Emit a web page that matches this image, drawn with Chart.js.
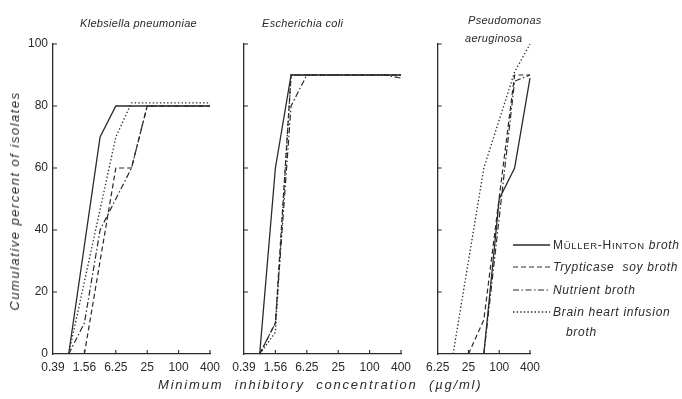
<!DOCTYPE html>
<html>
<head>
<meta charset="utf-8">
<script src="https://cdn.jsdelivr.net/npm/chart.js@4"></script>
<style>
  html, body { margin: 0; padding: 0; background: #fff; }
  body { width: 682px; height: 399px; position: relative; overflow: hidden;
         font-family: "Liberation Sans", Arial, sans-serif; color: #2a2a2a; }
  .panel { position: absolute; top: 0; height: 399px; }
  .txt { position: absolute; white-space: nowrap; font-style: italic; font-size: 12px; line-height: 14px; letter-spacing: 0.7px; }
  .title { font-size: 11px; letter-spacing: 0.3px; }
  .sc { font-style: normal; font-size: 9.5px; }
  .up { font-style: normal; }
</style>
</head>
<body>

<div class="panel" style="left:0;width:230px"><canvas id="kp"></canvas></div>
<div class="panel" style="left:220px;width:200px"><canvas id="ec"></canvas></div>
<div class="panel" style="left:420px;width:262px"><canvas id="pa"></canvas></div>

<div class="txt title" style="left:80px;top:16px">Klebsiella pneumoniae</div>
<div class="txt title" style="left:262px;top:16px">Escherichia coli</div>
<div class="txt title" style="left:468px;top:13px">Pseudomonas</div>
<div class="txt title" style="left:465px;top:31px">aeruginosa</div>

<div class="txt" style="left:15px;top:201px;font-size:13px;letter-spacing:1.5px;transform:translate(-50%,-50%) rotate(-90deg)">Cumulative percent of isolates</div>
<div class="txt" style="left:158px;top:378px;font-size:13px;letter-spacing:1.8px;word-spacing:6px">Minimum inhibitory concentration (µg/ml)</div>

<div class="txt" style="left:553px;top:238px"><span class="up">M</span><span class="sc">ÜLLER</span><span class="up">-H</span><span class="sc">INTON</span> broth</div>
<div class="txt" style="left:553px;top:260px">Trypticase&nbsp; soy broth</div>
<div class="txt" style="left:553px;top:283px">Nutrient broth</div>
<div class="txt" style="left:553px;top:305px">Brain heart infusion</div>
<div class="txt" style="left:566px;top:325px">broth</div>

<script>
// MIC dilution series (µg/ml)
const dilutionsFull = [0.39, 0.78, 1.56, 3.12, 6.25, 12.5, 25, 50, 100, 200, 400];
const dilutionsPa   = [6.25, 12.5, 25, 50, 100, 200, 400];

// Axis tick labels
const tickLabelsFull = ['0.39', '1.56', '6.25', '25', '100', '400'];
const tickLabelsPa   = ['6.25', '25', '100', '400'];
const percentTicks   = [0, 20, 40, 60, 80, 100];

// Media
const media = ['MÜLLER-HINTON broth', 'Trypticase soy broth', 'Nutrient broth', 'Brain heart infusion broth'];

// Klebsiella pneumoniae: cumulative % of isolates inhibited
const kpMuellerHinton = [null, 0, null, 70, 80, 80, 80, 80, 80, 80, 80];
const kpTrypticase    = [null, null, 0, null, 60, 60, 80, 80, 80, 80, 80];
const kpNutrient      = [null, 0, 10, 40, null, 60, 80, 80, 80, 80, 80];
const kpBrainHeart    = [null, 0, null, null, 70, 81, 81, 81, 81, 81, 81];

// Escherichia coli
const ecMuellerHinton = [null, 0, 60, 90, 90, 90, 90, 90, 90, 90, 90];
const ecTrypticase    = [null, 0, 10, 90, 90, 90, 90, 90, 90, 90, 90];
const ecNutrient      = [null, 0, 10, 80, 90, 90, 90, 90, 90, 90, 89];
const ecBrainHeart    = [null, 0, 7, 90, 90, 90, 90, 90, 90, 90, 90];

// Pseudomonas aeruginosa
const paMuellerHinton = [null, null, null, 0, 50, 60, 89];
const paTrypticase    = [null, null, 0, 11, null, 90, 90];
const paNutrient      = [null, null, null, 0, null, 88, 90];
const paBrainHeart    = [null, 0, null, 60, null, 91, 100];

const ink = '#2a2a2a';
const lineDashes = [[], [5, 3], [6, 2.5, 1.5, 2.5], [1.4, 2.2]];
const lineWidths = [1.3, 1.2, 1.2, 1.3];

function makeDatasets(seriesList) {
  return seriesList.map((values, i) => ({
    label: media[i],
    data: values,
    borderColor: ink,
    borderWidth: lineWidths[i],
    borderDash: lineDashes[i],
    pointRadius: 0,
    tension: 0,
    fill: false,
    spanGaps: true,
    clip: false
  }));
}

// Short tick marks pointing into the plot area
const innerTicks = {
  id: 'innerTicks',
  afterDraw(chart) {
    const { ctx, chartArea: a, scales: { x, y } } = chart;
    ctx.save();
    ctx.strokeStyle = ink;
    ctx.lineWidth = 1.1;
    ctx.beginPath();
    x.ticks.forEach(t => {
      const px = x.getPixelForValue(t.value);
      if (px - a.left < 2) return;
      ctx.moveTo(px, a.bottom);
      ctx.lineTo(px, a.bottom - 4);
    });
    y.ticks.forEach(t => {
      const py = y.getPixelForValue(t.value);
      if (a.bottom - py < 2) return;
      ctx.moveTo(a.left, py);
      ctx.lineTo(a.left + 4, py);
    });
    ctx.stroke();
    ctx.restore();
  }
};

// Line samples for the key, drawn from each dataset's own style
const keySamples = {
  id: 'keySamples',
  afterDraw(chart, args, opts) {
    const { ctx } = chart;
    ctx.save();
    chart.data.datasets.forEach((ds, i) => {
      const y = opts.rows[i];
      ctx.strokeStyle = ds.borderColor;
      ctx.lineWidth = ds.borderWidth;
      ctx.setLineDash(ds.borderDash);
      ctx.beginPath();
      ctx.moveTo(opts.x0, y);
      ctx.lineTo(opts.x1, y);
      ctx.stroke();
    });
    ctx.restore();
  }
};

function panel(canvasId, dilutions, series, tickLabels, opt) {
  const tickValues = tickLabels.map(Number);
  return new Chart(document.getElementById(canvasId), {
    type: 'line',
    data: { labels: dilutions, datasets: makeDatasets(series) },
    options: {
      responsive: true,
      maintainAspectRatio: false,
      animation: false,
      events: [],
      layout: { padding: { top: 44, right: opt.padRight, bottom: 0, left: 0 } },
      plugins: {
        legend: { display: false },
        tooltip: { enabled: false },
        keySamples: opt.key || false
      },
      scales: {
        x: {
          type: 'logarithmic',
          bounds: 'data',
          min: tickValues[0],
          max: tickValues[tickValues.length - 1],
          afterBuildTicks: s => { s.ticks = tickValues.map(v => ({ value: v })); },
          afterFit: s => { s.height = 45; },
          grid: { display: false, drawTicks: false },
          border: { display: true, color: ink, width: 1.3 },
          ticks: {
            autoSkip: false,
            maxRotation: 0,
            padding: 6,
            color: ink,
            font: { family: '"Liberation Sans", Arial, sans-serif', size: 12 },
            callback: (v, i) => tickLabels[i]
          }
        },
        y: {
          type: 'linear',
          min: 0,
          max: 100,
          afterBuildTicks: s => { s.ticks = percentTicks.map(v => ({ value: v })); },
          afterFit: s => { s.width = opt.axisWidth; },
          grid: { display: false, drawTicks: false },
          border: { display: true, color: ink, width: 1.3 },
          ticks: {
            display: opt.showPercent,
            padding: 5,
            color: ink,
            font: { family: '"Liberation Sans", Arial, sans-serif', size: 12 }
          }
        }
      }
    },
    plugins: opt.key ? [innerTicks, keySamples] : [innerTicks]
  });
}

panel('kp', dilutionsFull, [kpMuellerHinton, kpTrypticase, kpNutrient, kpBrainHeart], tickLabelsFull,
      { padRight: 20, axisWidth: 53, showPercent: true });
panel('ec', dilutionsFull, [ecMuellerHinton, ecTrypticase, ecNutrient, ecBrainHeart], tickLabelsFull,
      { padRight: 19, axisWidth: 24, showPercent: false });
panel('pa', dilutionsPa, [paMuellerHinton, paTrypticase, paNutrient, paBrainHeart], tickLabelsPa,
      { padRight: 152, axisWidth: 15, showPercent: false,
        key: { x0: 93, x1: 130, rows: [245, 267, 290, 312] } });
</script>
</body>
</html>
